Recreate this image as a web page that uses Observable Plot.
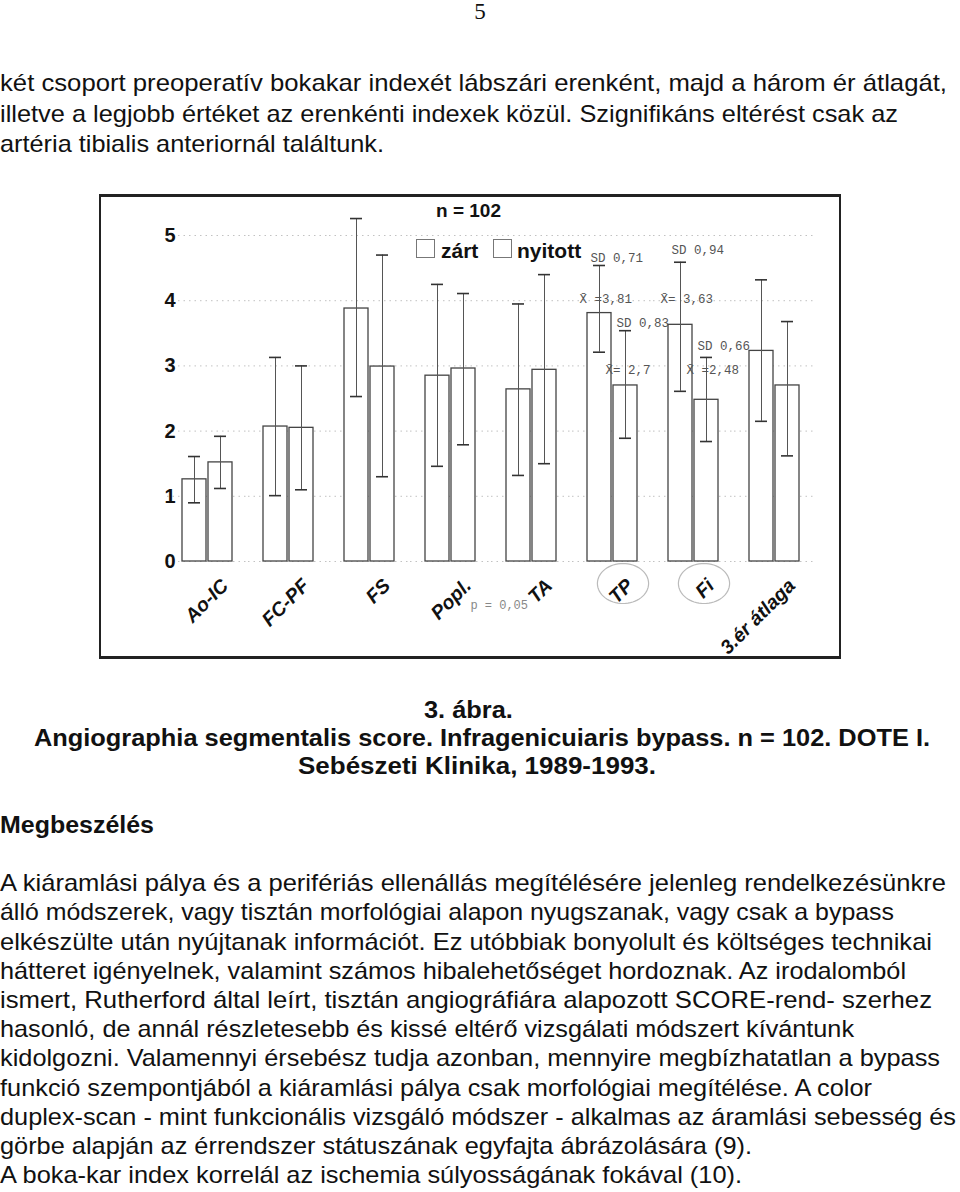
<!DOCTYPE html>
<html><head><meta charset="utf-8">
<script src="https://cdn.jsdelivr.net/npm/d3@7"></script>
<script src="https://cdn.jsdelivr.net/npm/@observablehq/plot@0.6"></script>
<style>
html,body{margin:0;padding:0;background:#fff;width:960px;height:1192px;overflow:hidden;position:relative}
.t{position:absolute;white-space:nowrap;font-family:"Liberation Sans",Arial,sans-serif;color:#111;transform-origin:0 50%;line-height:1}
#chart{position:absolute;left:100px;top:195px;width:740px;height:463px}
#chart svg{background:transparent}
#frame{position:absolute;left:99px;top:194px;width:742px;height:465px;border:2px solid #222;border-top-width:3px;border-bottom-width:3px;box-sizing:border-box;pointer-events:none}
.lg{position:absolute;font-family:"Liberation Sans",Arial,sans-serif;font-weight:bold;color:#111;line-height:1;white-space:nowrap}
.box{position:absolute;width:19px;height:19px;border:1.5px solid #777;box-sizing:border-box}
</style></head><body>
<div id="chart"></div>
<div id="frame"></div>
<div class="lg" style="left:436px;top:201px;font-size:19px">n = 102</div>
<div class="box" style="left:416px;top:239px"></div>
<div class="lg" style="left:441px;top:240px;font-size:21px">zárt</div>
<div class="box" style="left:493px;top:239px"></div>
<div class="lg" style="left:517px;top:240px;font-size:21px">nyitott</div>
<script>
// ---- chart data ----
const groups = ["Ao-IC", "FC-PF", "FS", "Popl.", "TA", "TP", "Fi", "3.ér átlaga"];
const series = ["zárt", "nyitott"];
const zartMean = [1.26, 2.07, 3.88, 2.85, 2.64, 3.81, 3.63, 3.23];
const zartLow  = [0.90, 1.01, 2.53, 1.46, 1.32, 3.21, 2.61, 2.15];
const zartHigh = [1.61, 3.13, 5.26, 4.25, 3.95, 4.54, 4.59, 4.32];
const nyitMean = [1.52, 2.05, 2.99, 2.96, 2.94, 2.70, 2.48, 2.70];
const nyitLow  = [1.12, 1.10, 1.30, 1.79, 1.50, 1.89, 1.84, 1.62];
const nyitHigh = [1.92, 3.00, 4.70, 4.11, 4.40, 3.54, 3.13, 3.68];
const yTicks = [0, 1, 2, 3, 4, 5];
const circled = ["TP", "Fi"];
const sdGroup  = ["TP", "TP", "Fi", "Fi"];
const sdSeries = ["zárt", "nyitott", "zárt", "nyitott"];
const sdText   = ["SD 0,71", "SD 0,83", "SD 0,94", "SD 0,66"];
const sdY      = [4.66, 3.66, 4.77, 3.30];
const mGroup   = ["TP", "TP", "Fi", "Fi"];
const mSeries  = ["zárt", "nyitott", "zárt", "nyitott"];
const mText    = ["X\u0304 =3,81", "X\u0304= 2,7", "X\u0304= 3,63", "X\u0304 =2,48"];
const mY       = [4.03, 2.94, 4.03, 2.94];
const pNote    = ["p = 0,05"];

const data = groups.flatMap((g, i) => [
  {group: g, series: "zárt", mean: zartMean[i], low: zartLow[i], high: zartHigh[i]},
  {group: g, series: "nyitott", mean: nyitMean[i], low: nyitLow[i], high: nyitHigh[i]}
]);
const sdAnn = sdText.map((t, i) => ({group: sdGroup[i], series: sdSeries[i], text: t, y: sdY[i]}));
const mAnn = mText.map((t, i) => ({group: mGroup[i], series: mSeries[i], text: t, y: mY[i]}));

const ellipse = {draw(ctx, size) {
  const r = Math.sqrt(size / Math.PI), rx = r * 1.28, ry = r, n = 64;
  for (let i = 0; i <= n; i++) {
    const a = 2 * Math.PI * i / n, px = rx * Math.cos(a), py = ry * Math.sin(a);
    if (i) ctx.lineTo(px, py); else ctx.moveTo(px, py);
  }
  ctx.closePath();
}};

const mono = "'Liberation Mono', 'DejaVu Sans Mono', monospace";
const sans = "'Liberation Sans', Arial, sans-serif";
const chart = Plot.plot({
  width: 740, height: 463,
  marginLeft: 66, marginRight: 24, marginTop: 40, marginBottom: 97,
  fx: {domain: groups, paddingInner: 0, paddingOuter: 0, axis: null, label: null},
  x: {domain: series, paddingInner: 0.074, paddingOuter: 0.54, axis: null, label: null},
  y: {domain: [0, 5], axis: null},
  marks: [
    Plot.ruleY(yTicks, {stroke: "#999", strokeDasharray: "1.5,4", strokeWidth: 1, strokeOpacity: 0.6}),
    Plot.axisY(yTicks, {tickSize: 0, tickPadding: 0, dx: 8, tickFormat: d => String(d), fontSize: 20, fontWeight: "bold", fontFamily: sans, fill: "#111", label: null}),
    Plot.barY(data, {fx: "group", x: "series", y: "mean", fill: "white", stroke: "#444", strokeWidth: 1.3}),
    Plot.ruleX(data, {fx: "group", x: "series", y1: "low", y2: "high", stroke: "#555", strokeWidth: 1}),
    Plot.tickY(data, {fx: "group", x: "series", y: "high", insetLeft: 6, insetRight: 6, stroke: "#333", strokeWidth: 1.6}),
    Plot.tickY(data, {fx: "group", x: "series", y: "low", insetLeft: 6, insetRight: 6, stroke: "#333", strokeWidth: 1.6}),
    Plot.text(sdAnn, {fx: "group", x: "series", y: "y", text: "text", textAnchor: "start", dx: -9, fontSize: 12.5, fontFamily: mono, fill: "#555"}),
    Plot.text(mAnn, {fx: "group", x: "series", y: "y", text: "text", textAnchor: "start", dx: -20, fontSize: 12.5, fontFamily: mono, fill: "#555"}),
    Plot.dot(circled, {fx: d => d, frameAnchor: "bottom", symbol: ellipse, r: 20, dx: 10, dy: 22, stroke: "#bbb", fill: "none", strokeWidth: 1.2}),
    Plot.text(groups, {fx: d => d, text: d => d, frameAnchor: "bottom", textAnchor: "end", lineAnchor: "middle", rotate: -45, dx: 17, dy: 21, fontSize: 19.5, fontWeight: "bold", fontStyle: "italic", fontFamily: sans, fill: "#111"}),
    Plot.text(pNote, {fx: () => "TA", text: d => d, frameAnchor: "bottom", textAnchor: "end", dx: -4, dy: 47, fontSize: 12, fontFamily: mono, fill: "#888"})
  ]
});
document.getElementById("chart").appendChild(chart);

// ---- page text ----
// width: target width (scale computed); scale: explicit horizontal scale; center: left is the centre x
function place(text, left, cy, width, size, weight, family, center, scale) {
  const el = document.createElement("div");
  el.className = "t";
  el.textContent = text;
  el.style.fontSize = size + "px";
  el.style.fontWeight = weight;
  if (family) el.style.fontFamily = family;
  document.body.appendChild(el);
  const nat = el.getBoundingClientRect().width;
  const k = width ? width / nat : (scale || 1);
  const w = nat * k;
  el.style.left = (center ? left - w / 2 : left) + "px";
  el.style.top = (cy - size * 0.53) + "px";
  el.style.transform = `scaleX(${k})`;
  return k;
}
place("5", 480, 12, null, 23, "normal", "'Liberation Serif', 'Times New Roman', serif", true);
const topLines = [
  ["két csoport preoperatív bokakar indexét lábszári erenként, majd a három ér átlagát,", 947],
  ["illetve a legjobb értéket az erenkénti indexek közül. Szignifikáns eltérést csak az", 898],
  ["artéria tibialis anteriornál találtunk.", 384]
];
topLines.forEach(([t, w], i) => place(t, 0, 84 + i * 30.5, w, 24, "normal"));
const capK = place("Angiographia segmentalis score. Infragenicuiaris bypass. n = 102. DOTE I.", 34, 739, 896, 23, "bold");
place("3. ábra.", 468, 711, null, 23, "bold", null, true, capK);
place("Sebészeti Klinika, 1989-1993.", 298, 767, 358, 23, "bold");
place("Megbeszélés", 0, 826, 154, 23, "bold");
const para = [
  ["A kiáramlási pálya és a perifériás ellenállás megítélésére jelenleg rendelkezésünkre", 946],
  ["álló módszerek, vagy tisztán morfológiai alapon nyugszanak, vagy csak a bypass", 894],
  ["elkészülte után nyújtanak információt. Ez utóbbiak bonyolult és költséges technikai", 932],
  ["hátteret igényelnek, valamint számos hibalehetőséget hordoznak. Az irodalomból", 906],
  ["ismert, Rutherford által leírt, tisztán angiográfiára alapozott SCORE-rend- szerhez", 932],
  ["hasonló, de annál részletesebb és kissé eltérő vizsgálati módszert kívántunk", 854],
  ["kidolgozni. Valamennyi érsebész tudja azonban, mennyire megbízhatatlan a bypass", 940],
  ["funkció szempontjából a kiáramlási pálya csak morfológiai megítélése. A color", 872],
  ["duplex-scan - mint funkcionális vizsgáló módszer - alkalmas az áramlási sebesség és", 956],
  ["görbe alapján az érrendszer státuszának egyfajta ábrázolására (9).", 752],
  ["A boka-kar index korrelál az ischemia súlyosságának fokával (10).", 742]
];
para.forEach(([t, w], i) => place(t, 0, 884 + i * 29.2, w, 24, "normal"));
</script>
</body></html>
